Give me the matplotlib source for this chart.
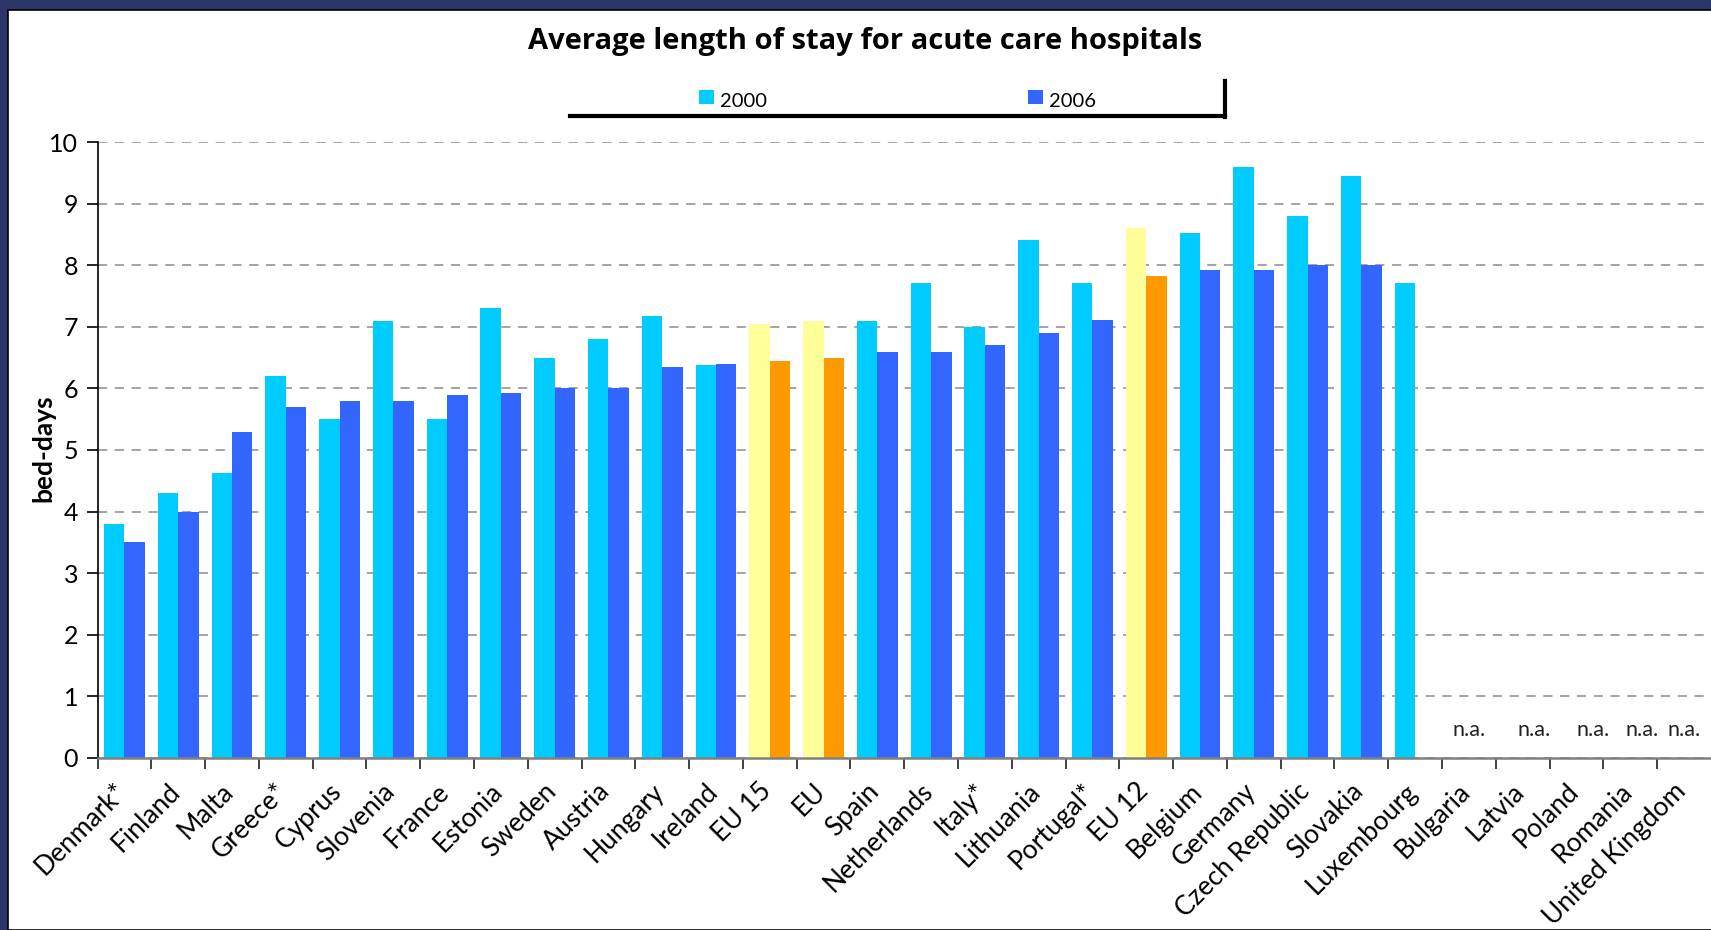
import numpy as np
import matplotlib
matplotlib.use('Agg')
import matplotlib.pyplot as plt
import matplotlib.transforms as mtransforms
from matplotlib.patches import Rectangle
from matplotlib.lines import Line2D

plt.rcParams['font.family'] = ['Lato', 'DejaVu Sans']

# data
countries = ['Denmark*', 'Finland', 'Malta', 'Greece*', 'Cyprus', 'Slovenia', 'France',
             'Estonia', 'Sweden', 'Austria', 'Hungary', 'Ireland', 'EU 15', 'EU', 'Spain',
             'Netherlands', 'Italy*', 'Lithuania', 'Portugal*', 'EU 12', 'Belgium', 'Germany',
             'Czech Republic', 'Slovakia', 'Luxembourg', 'Bulgaria', 'Latvia', 'Poland',
             'Romania', 'United Kingdom']
v2000 = [3.8, 4.3, 4.63, 6.2, 5.5, 7.1, 5.5, 7.3, 6.5, 6.8, 7.17, 6.38, 7.05, 7.1, 7.1,
         7.72, 7.0, 8.42, 7.72, 8.6, 8.52, 9.6, 8.8, 9.45, 7.72,
         np.nan, np.nan, np.nan, np.nan, np.nan]
v2006 = [3.5, 4.0, 5.3, 5.7, 5.8, 5.8, 5.9, 5.92, 6.0, 6.0, 6.35, 6.4, 6.45, 6.5, 6.6,
         6.6, 6.7, 6.9, 7.12, 7.83, 7.92, 7.92, 8.0, 8.0, np.nan,
         np.nan, np.nan, np.nan, np.nan, np.nan]
aggregates = ['EU 15', 'EU', 'EU 12']
series = ['2000', '2006']
na_pos = [25.5, 26.72, 27.82, 28.72, 29.51]   # where the "n.a." notes sit (category units)

c2000, c2006 = '#00CCFF', '#3366FF'
c2000_agg, c2006_agg = '#FFFF99', '#FF9900'

fig = plt.figure(figsize=(17.11, 9.30), dpi=100)
fig.patch.set_facecolor('#2b3568')
# white slide panel
fig.add_artist(Rectangle((8 / 1711, 0), 1.0, 1 - 10 / 930, transform=fig.transFigure,
                         facecolor='white', edgecolor='black', linewidth=1.2, zorder=0))

ax = fig.add_axes([97.6 / 1711, 172.3 / 930, (1713 - 97.6) / 1711, (787.7 - 172.3) / 930])
ax.set_facecolor('none')

x = np.arange(len(countries))
w = 0.38
col0 = [c2000_agg if c in aggregates else c2000 for c in countries]
col1 = [c2006_agg if c in aggregates else c2006 for c in countries]
ax.bar(x - w / 2, np.nan_to_num(v2000), w, color=col0, zorder=2)
ax.bar(x + w / 2, np.nan_to_num(v2006), w, color=col1, zorder=2)

for p in na_pos:
    ax.text(p - 0.5, 0.45, 'n.a.', ha='center', va='center', fontsize=15.5, color='#222222')

ax.set_xlim(-0.5, len(countries) - 0.5 + 0.04)
ax.set_ylim(0, 10)
ax.set_yticks(np.arange(0, 11, 1))
ax.yaxis.grid(True, linestyle=(0, (6, 5)), color='#8a8a8a', linewidth=1.1, zorder=1)
ax.set_axisbelow(True)
ax.tick_params(axis='y', labelsize=18, length=8, width=1.2, direction='out', pad=6)

ax.set_xticks(x)
ax.set_xticklabels(countries, rotation=45, ha='right', rotation_mode='anchor', fontsize=19)
ax.tick_params(axis='x', length=0, pad=15)
shift = mtransforms.ScaledTranslation(-11 / 100, 0, fig.dpi_scale_trans)
for lbl in ax.get_xticklabels():
    lbl.set_transform(lbl.get_transform() + shift)
ax.set_xticks(np.arange(-0.5, len(countries) - 0.5, 1), minor=True)
ax.tick_params(axis='x', which='minor', length=8, width=1.4, color='#404040')

ax.spines['top'].set_visible(False)
ax.spines['right'].set_visible(False)
ax.spines['left'].set_linewidth(1.2)
ax.spines['bottom'].set_color('#808080')
ax.spines['bottom'].set_linewidth(1.8)

ax.set_ylabel('bed-days', fontsize=19, fontweight='bold')
ax.yaxis.set_label_coords((55 - 97.6) / 1615, (930 - 448 - 172.3) / 615.4)

fig.text(865 / 1711, 1 - 49 / 930, 'Average length of stay for acute care hospitals',
         ha='center', va='baseline', fontsize=21, fontweight='bold', family='Open Sans')

# legend, drawn by hand like the original box (bottom and right border only)
fig.add_artist(Line2D([570 / 1711, 1225 / 1711], [1 - 115.7 / 930, 1 - 115.7 / 930],
                      transform=fig.transFigure, color='black', linewidth=3))
fig.add_artist(Line2D([1225 / 1711, 1225 / 1711], [1 - 117 / 930, 1 - 80.7 / 930],
                      transform=fig.transFigure, color='black', linewidth=3))
for lx, col, lab in zip([699, 1028], [c2000, c2006], series):
    fig.add_artist(Rectangle((lx / 1711, 1 - 104.3 / 930), 14.5 / 1711, 14.3 / 930,
                             transform=fig.transFigure, facecolor=col, edgecolor='none'))
    fig.text((lx + 21) / 1711, 1 - 107 / 930, lab, ha='left', va='baseline', fontsize=14.5)

fig.savefig('out.png', dpi=100, facecolor=fig.get_facecolor())
